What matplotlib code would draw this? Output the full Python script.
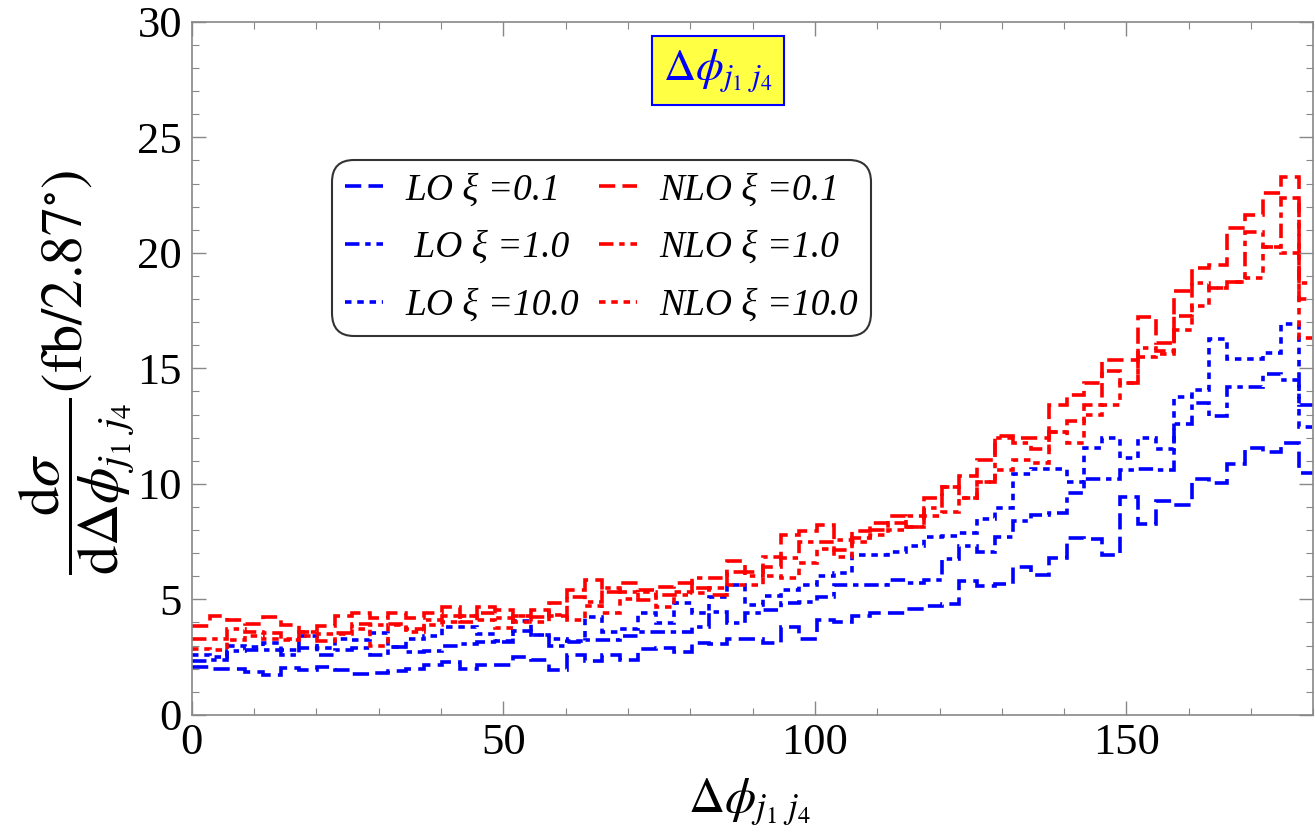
import numpy as np
import matplotlib
matplotlib.use("Agg")
import matplotlib.pyplot as plt

# bin width 0.05 rad = 2.865 deg, 63 bins over 0..180
bin_width = 2.865
n_bins = 63

lo_01 = [2.05, 2.0, 2.0, 1.85, 1.72, 2.02, 1.92, 2.07, 1.92, 1.78, 1.8, 1.88, 1.97,
         2.15, 2.3, 2.0, 2.15, 2.15, 2.5, 2.38, 1.92, 2.6, 2.35, 2.6, 2.38, 2.85,
         2.9, 2.7, 3.13, 3.07, 3.28, 3.3, 3.1, 3.8, 3.3, 4.1, 4.0, 4.26, 4.43,
         4.4, 4.6, 4.7, 4.8, 5.8, 5.56, 5.68, 6.38, 6.05, 6.78, 7.66, 7.6,
         6.9, 9.45, 8.25, 9.25, 9.1, 10.2, 10.05, 10.85, 11.55, 11.4, 11.78, 10.45]
lo_1 = [2.35, 2.38, 2.75, 2.8, 2.81, 2.6, 2.9, 2.6, 2.81, 2.9, 2.6, 2.95, 2.74,
        2.75, 3.0, 3.05, 3.15, 3.15, 3.65, 3.45, 3.0, 3.15, 3.25, 3.25, 3.4, 3.6,
        3.6, 3.6, 3.8, 4.47, 3.97, 4.4, 4.55, 4.83, 4.9, 5.12, 5.63, 5.63, 5.6,
        5.84, 5.7, 5.84, 6.73, 7.3, 7.07, 7.7, 8.4, 8.65, 8.75, 9.6, 10.2,
        10.2, 10.58, 10.65, 10.6, 12.6, 13.5, 12.94, 14.2, 14.2, 14.76, 14.5, 13.4]
lo_10 = [2.6, 2.5, 3.0, 2.95, 3.1, 2.8, 3.4, 2.9, 3.3, 3.25, 3.55, 2.95, 3.3,
         3.4, 3.8, 3.8, 3.5, 3.2, 4.05, 3.45, 3.3, 3.2, 4.25, 3.6, 3.7, 4.4,
         3.97, 4.83, 4.4, 5.12, 5.63, 4.76, 5.15, 5.41, 5.63, 5.99, 6.14, 6.93, 6.9,
         7.07, 7.3, 7.7, 7.75, 7.87, 8.46, 8.95, 10.43, 10.65, 10.65, 10.07, 11.53,
         11.97, 11.1, 11.97, 11.5, 13.75, 14.05, 16.25, 15.4, 15.4, 15.67, 16.94, 12.45]
nlo_01 = [3.85, 4.3, 4.1, 3.95, 4.25, 3.9, 3.6, 3.85, 4.3, 4.4, 4.2, 4.4, 4.2,
          4.4, 4.69, 4.3, 4.69, 4.55, 4.26, 4.55, 4.3, 5.41, 5.84, 5.3, 5.7, 5.4,
          5.55, 5.7, 5.5, 5.2, 6.64, 6.2, 6.42, 7.79, 7.94, 8.23, 7.14, 7.94, 8.3,
          8.59, 8.15, 9.38, 9.88, 10.32, 11.04, 12.08, 12.0, 12.0, 13.42, 13.85, 14.36,
          15.37, 15.37, 17.24, 16.09, 18.35, 19.34, 19.48, 21.07, 21.65, 22.58, 23.3, 18.0]
nlo_1 = [3.3, 3.3, 3.7, 3.6, 3.55, 3.3, 3.6, 3.2, 3.55, 3.95, 3.9, 3.95, 3.7,
         4.1, 4.3, 4.04, 4.4, 4.2, 4.0, 4.25, 4.84, 5.12, 4.9, 5.5, 5.3, 4.98,
         5.2, 5.2, 5.92, 5.92, 6.2, 5.99, 6.85, 6.78, 7.5, 7.5, 7.58, 7.65, 8.0,
         8.3, 8.6, 8.95, 9.88, 9.38, 10.1, 12.0, 11.76, 11.5, 12.26, 12.7, 13.42,
         14.9, 14.36, 15.87, 15.73, 17.27, 18.69, 18.47, 18.72, 20.92, 20.27, 22.37, 18.69]
nlo_10 = [2.85, 2.8, 3.25, 3.4, 3.3, 3.25, 3.4, 3.5, 3.5, 3.7, 3.0, 3.9, 3.6,
          3.9, 4.04, 4.3, 4.1, 3.75, 4.3, 4.0, 4.33, 4.1, 4.7, 4.4, 5.0, 5.3,
          4.69, 5.3, 5.27, 5.5, 5.63, 5.63, 6.0, 5.92, 6.57, 7.2, 6.85, 7.5, 7.8,
          8.0, 8.15, 8.6, 8.8, 9.38, 10.1, 10.6, 11.04, 10.9, 12.26, 11.76, 13.0,
          13.42, 14.36, 15.5, 15.6, 16.67, 17.68, 18.47, 18.72, 18.9, 20.27, 19.99, 16.31]

labels = ['LO ξ =0.1', ' LO ξ =1.0', 'LO ξ =10.0',
          'NLO ξ =0.1', 'NLO ξ =1.0', 'NLO ξ =10.0']

plt.rcParams['font.family'] = ['Liberation Serif', 'DejaVu Serif']
plt.rcParams['mathtext.fontset'] = 'stix'

dashed = (0, (4.5, 2))
dashdot = (0, (4, 1.6, 1.5, 1.6))
dotted = (0, (1.8, 1.6))

series = [(lo_01, 'blue', dashed), (lo_1, 'blue', dashdot), (lo_10, 'blue', dotted),
          (nlo_01, 'red', dashed), (nlo_1, 'red', dashdot), (nlo_10, 'red', dotted)]

edges = np.arange(n_bins + 1) * bin_width

fig = plt.figure(figsize=(13.15, 8.4), dpi=100)
ax = fig.add_axes([0.1458, 0.149, 0.853, 0.825])

handles = []
for (vals, col, ls), lab in zip(series, labels):
    ax.stairs(vals, edges, baseline=None, color=col, linestyle=ls,
              linewidth=2.6, label=lab)
    handles.append(plt.Line2D([], [], color=col, linestyle=ls, linewidth=2.6))

ax.set_xlim(0, 180)
ax.set_ylim(0, 30)
ax.set_xticks([0, 50, 100, 150])
ax.set_xticks(np.arange(0, 181, 10), minor=True)
ax.set_yticks(np.arange(0, 31, 5))
ax.set_yticks(np.arange(0, 31, 1), minor=True)
ax.tick_params(which='both', direction='in', top=True, right=True,
               color='#888888', labelsize=32, labelcolor='black')
ax.tick_params(which='major', length=10, width=1)
ax.tick_params(which='minor', length=5, width=0.8)
ax.tick_params(axis='x', pad=6)
ax.tick_params(axis='y', pad=7)
for sp in ax.spines.values():
    sp.set_color('#888888')
    sp.set_linewidth(1.2)

leg = ax.legend(handles, labels, ncol=2, loc='upper left',
                bbox_to_anchor=(0.13, 0.793), frameon=True, fancybox=True,
                prop={'family': 'Liberation Serif', 'style': 'italic', 'size': 27},
                handlelength=1.0, handletextpad=0.6, columnspacing=0.55,
                labelspacing=0.62, borderpad=0.2, borderaxespad=0)
leg.get_frame().set_edgecolor('black')
leg.get_frame().set_linewidth(1.5)
leg.get_frame().set_boxstyle('round,pad=0.15,rounding_size=0.6')

ax.text(0.469, 0.93, r'$\Delta\phi_{j_1\ j_4}$', transform=ax.transAxes,
        ha='center', va='center', color='blue', fontsize=32,
        bbox=dict(boxstyle='square,pad=0.25', facecolor='#FFFF44',
                  edgecolor='blue', linewidth=1.5))

fig.text(0.57, 0.045, r'$\Delta\phi_{j_1\ j_4}$', ha='center', va='center',
         fontsize=36)
fig.text(0.058, 0.557,
         r'$\dfrac{\mathrm{d}\sigma}{\mathrm{d}\Delta\phi_{j_1\ j_4}}(\mathrm{fb}/2.87^{\circ})$',
         ha='center', va='center', rotation=90, fontsize=42)

plt.savefig('out.png', dpi=100)
